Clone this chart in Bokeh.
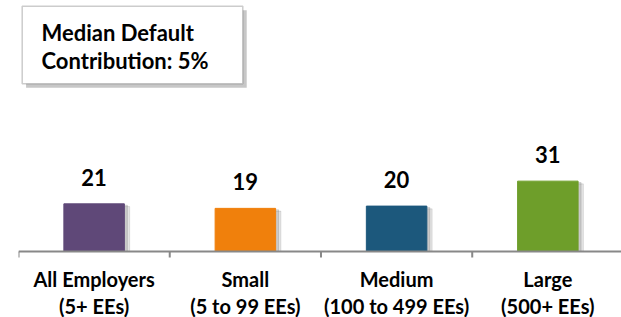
from bokeh.plotting import figure
from bokeh.models import Range1d, ColumnDataSource, BoxAnnotation, Label, Span
from bokeh.core.properties import value
from bokeh.embed import file_html
from bokeh.resources import INLINE
import numpy as np

# ---- data ----
cat_line1 = ["All Employers", "Small", "Medium", "Large"]
cat_line2 = ["(5+ EEs)", "(5 to 99 EEs)", "(100 to 499 EEs)", "(500+ EEs)"]
values = [21, 19, 20, 31]
colors = ["#5F4878", "#F0800C", "#1C587C", "#6E9E2A"]
box_lines = ["Median Default", "Contribution: 5%"]

FONT = "Lato"
PX = 2.27          # pixels per value unit
AX_GRAY = "#888888"

n = len(values)
xs = np.arange(n) + 0.5
bounds = np.arange(n + 1)
src = ColumnDataSource(dict(x=xs, top=values, base=[0] * n, color=colors,
                            label=[str(v) for v in values], l1=cat_line1, l2=cat_line2))

p = figure(width=621, height=317, output_backend="svg", toolbar_location=None,
           x_range=Range1d(0, 3.987), y_range=Range1d(-66 / PX, 251 / PX),
           min_border_left=18, min_border_right=0, min_border_top=0, min_border_bottom=0)
p.outline_line_color = None
p.xgrid.visible = False
p.ygrid.visible = False
p.xaxis.visible = False
p.yaxis.visible = False
p.background_fill_color = "white"
p.border_fill_color = "white"

# bar shadows
p.vbar(x=xs + 0.035, top=np.array(values) - 1.2, width=0.40, bottom=0, color="#000000", alpha=0.10)
p.vbar(x=xs + 0.02, top=np.array(values) - 0.6, width=0.40, bottom=0, color="#000000", alpha=0.12)
# bars
p.vbar(x="x", top="top", width=0.40, bottom=0, color="color", source=src)
# value labels
p.text(x="x", y="top", text="label", source=src, text_align="center", text_baseline="alphabetic",
       y_offset=-26.5, text_font=value(FONT), text_font_style="bold", text_font_size="22px",
       text_color="#000000")

# category axis: baseline + boundary ticks
p.add_layout(Span(location=0, dimension="width", line_color=AX_GRAY, line_width=2))
p.segment(x0=bounds, y0=[0] * (n + 1), x1=bounds, y1=[-6 / PX] * (n + 1),
          line_color=AX_GRAY, line_width=2)

# category labels (two lines)
for field, off in (("l1", 27.2), ("l2", 54.5)):
    p.text(x="x", y="base", text=field, source=src, y_offset=off,
           text_align="center", text_baseline="alphabetic",
           text_font=value(FONT), text_font_style="bold", text_font_size="20px",
           text_color="#000000")

# info box
p.add_layout(BoxAnnotation(left=0.05, right=1.509, top=106.3, bottom=72.1,
                           fill_color="#000000", fill_alpha=0.22, line_color=None))
p.add_layout(BoxAnnotation(left=0.0245, right=1.483, top=108.0, bottom=73.9,
                           fill_color="white", fill_alpha=1.0, line_color="#555555", line_width=1.5))
p.add_layout(Label(x=0.152, y=96.5, text=box_lines[0], text_font=FONT, text_font_style="bold",
                   text_font_size="22px", text_baseline="alphabetic", text_color="#000000"))
p.add_layout(Label(x=0.152, y=84.0, text=box_lines[1], text_font=FONT, text_font_style="bold",
                   text_font_size="22px", text_baseline="alphabetic", text_color="#000000"))

open("out.html", "w").write(file_html(p, INLINE))
